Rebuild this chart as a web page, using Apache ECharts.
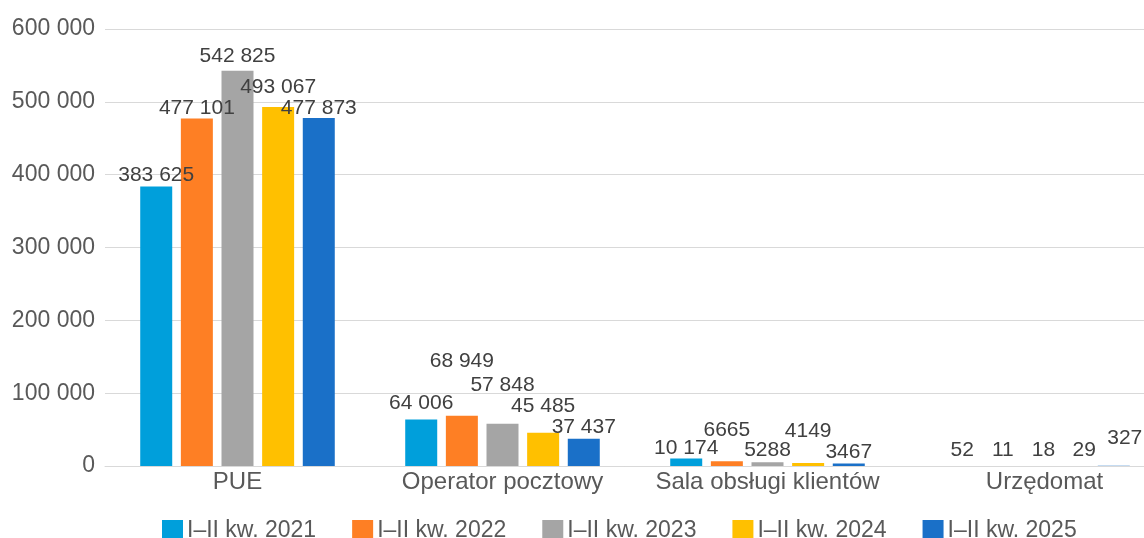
<!DOCTYPE html>
<html>
<head>
<meta charset="utf-8">
<script src="https://cdn.jsdelivr.net/npm/echarts@6/dist/echarts.min.js"></script>
<style>
html,body{margin:0;padding:0;background:#fff;}
#chart{width:1144px;height:538px;}
</style>
</head>
<body>
<div id="chart"></div>
<script>
var categories = ['PUE', 'Operator pocztowy', 'Sala obsługi klientów', 'Urzędomat'];
var seriesNames = ['I–II kw. 2021', 'I–II kw. 2022', 'I–II kw. 2023', 'I–II kw. 2024', 'I–II kw. 2025'];
var v2021 = [383625, 64006, 10174, 52];
var v2022 = [477101, 68949, 6665, 11];
var v2023 = [542825, 57848, 5288, 18];
var v2024 = [493067, 45485, 4149, 29];
var v2025 = [477873, 37437, 3467, 327];
var yTicks = [0, 100000, 200000, 300000, 400000, 500000, 600000];

var colors = ['#009fdb', '#fe7f24', '#a5a5a5', '#ffc000', '#1a70c8'];
// label nudges [dx, dy] per series / category, like the hand-placed labels in the source
var labelNudge = [
	[[0, 4], [0, -1], [0, 5], [11, 0]],
	[[0, 5], [0, -39], [0, -15], [11, 0]],
	[[0, 1], [0, -23], [0, 4], [11, 0]],
	[[0, -4], [0, -11], [0, -16], [11, 0]],
	[[0, 6], [0, 4], [0, 4], [11, -12]]
];

var fmtSpace = function (v) {
	return String(v).replace(/\B(?=(\d{3})+(?!\d))/g, ' ');
};
var fmtLabel = function (v) {
	return v >= 10000 ? fmtSpace(v) : String(v);
};

var chart = echarts.init(document.getElementById('chart'));
var allValues = [v2021, v2022, v2023, v2024, v2025];
var series = [];
allValues.forEach(function (vals, i) {
	series.push({
		name: seriesNames[i],
		type: 'bar',
		barWidth: 32,
		barGap: '27%',
		itemStyle: {color: colors[i]},
		label: {
			show: true,
			position: 'top',
			fontSize: 21,
			fontFamily: 'Liberation Sans',
			color: '#404040',
			formatter: function (p) { return fmtLabel(p.value); }
		},
		data: vals.map(function (v, j) {
			return {value: v, label: {offset: labelNudge[i][j]}};
		})
	});
});

var option = {
	animation: false,
	textStyle: {fontFamily: 'Liberation Sans'},
	grid: {left: 105, right: -21, top: 29, bottom: 72, outerBoundsMode: 'none'},
	legend: {
		data: seriesNames,
		left: 157,
		top: 514,
		itemWidth: 21,
		itemHeight: 21,
		itemGap: 36,
		icon: 'rect',
		textStyle: {fontSize: 23, color: '#595959', fontFamily: 'Liberation Sans', padding: [0, 0, 0, -1]}
	},
	xAxis: {
		type: 'category',
		data: categories,
		axisLine: {lineStyle: {color: '#d9d9d9'}},
		axisTick: {show: false},
		axisLabel: {
			interval: 0, fontSize: 24, color: '#595959', margin: 4,
			formatter: function (v, idx) {
				return idx === 3 ? '{u|' + v + '}' : v;
			},
			rich: {u: {fontSize: 24, color: '#595959', padding: [0, 0, 0, 24]}}
		}
	},
	yAxis: {
		type: 'value',
		min: yTicks[0],
		max: yTicks[yTicks.length - 1],
		interval: yTicks[1] - yTicks[0],
		axisLine: {show: false},
		axisTick: {show: false},
		splitLine: {lineStyle: {color: '#d9d9d9', width: 1}},
		axisLabel: {fontSize: 23, color: '#595959', margin: 10, formatter: fmtSpace}
	},
	series: series
};
chart.setOption(option);
</script>
</body>
</html>
